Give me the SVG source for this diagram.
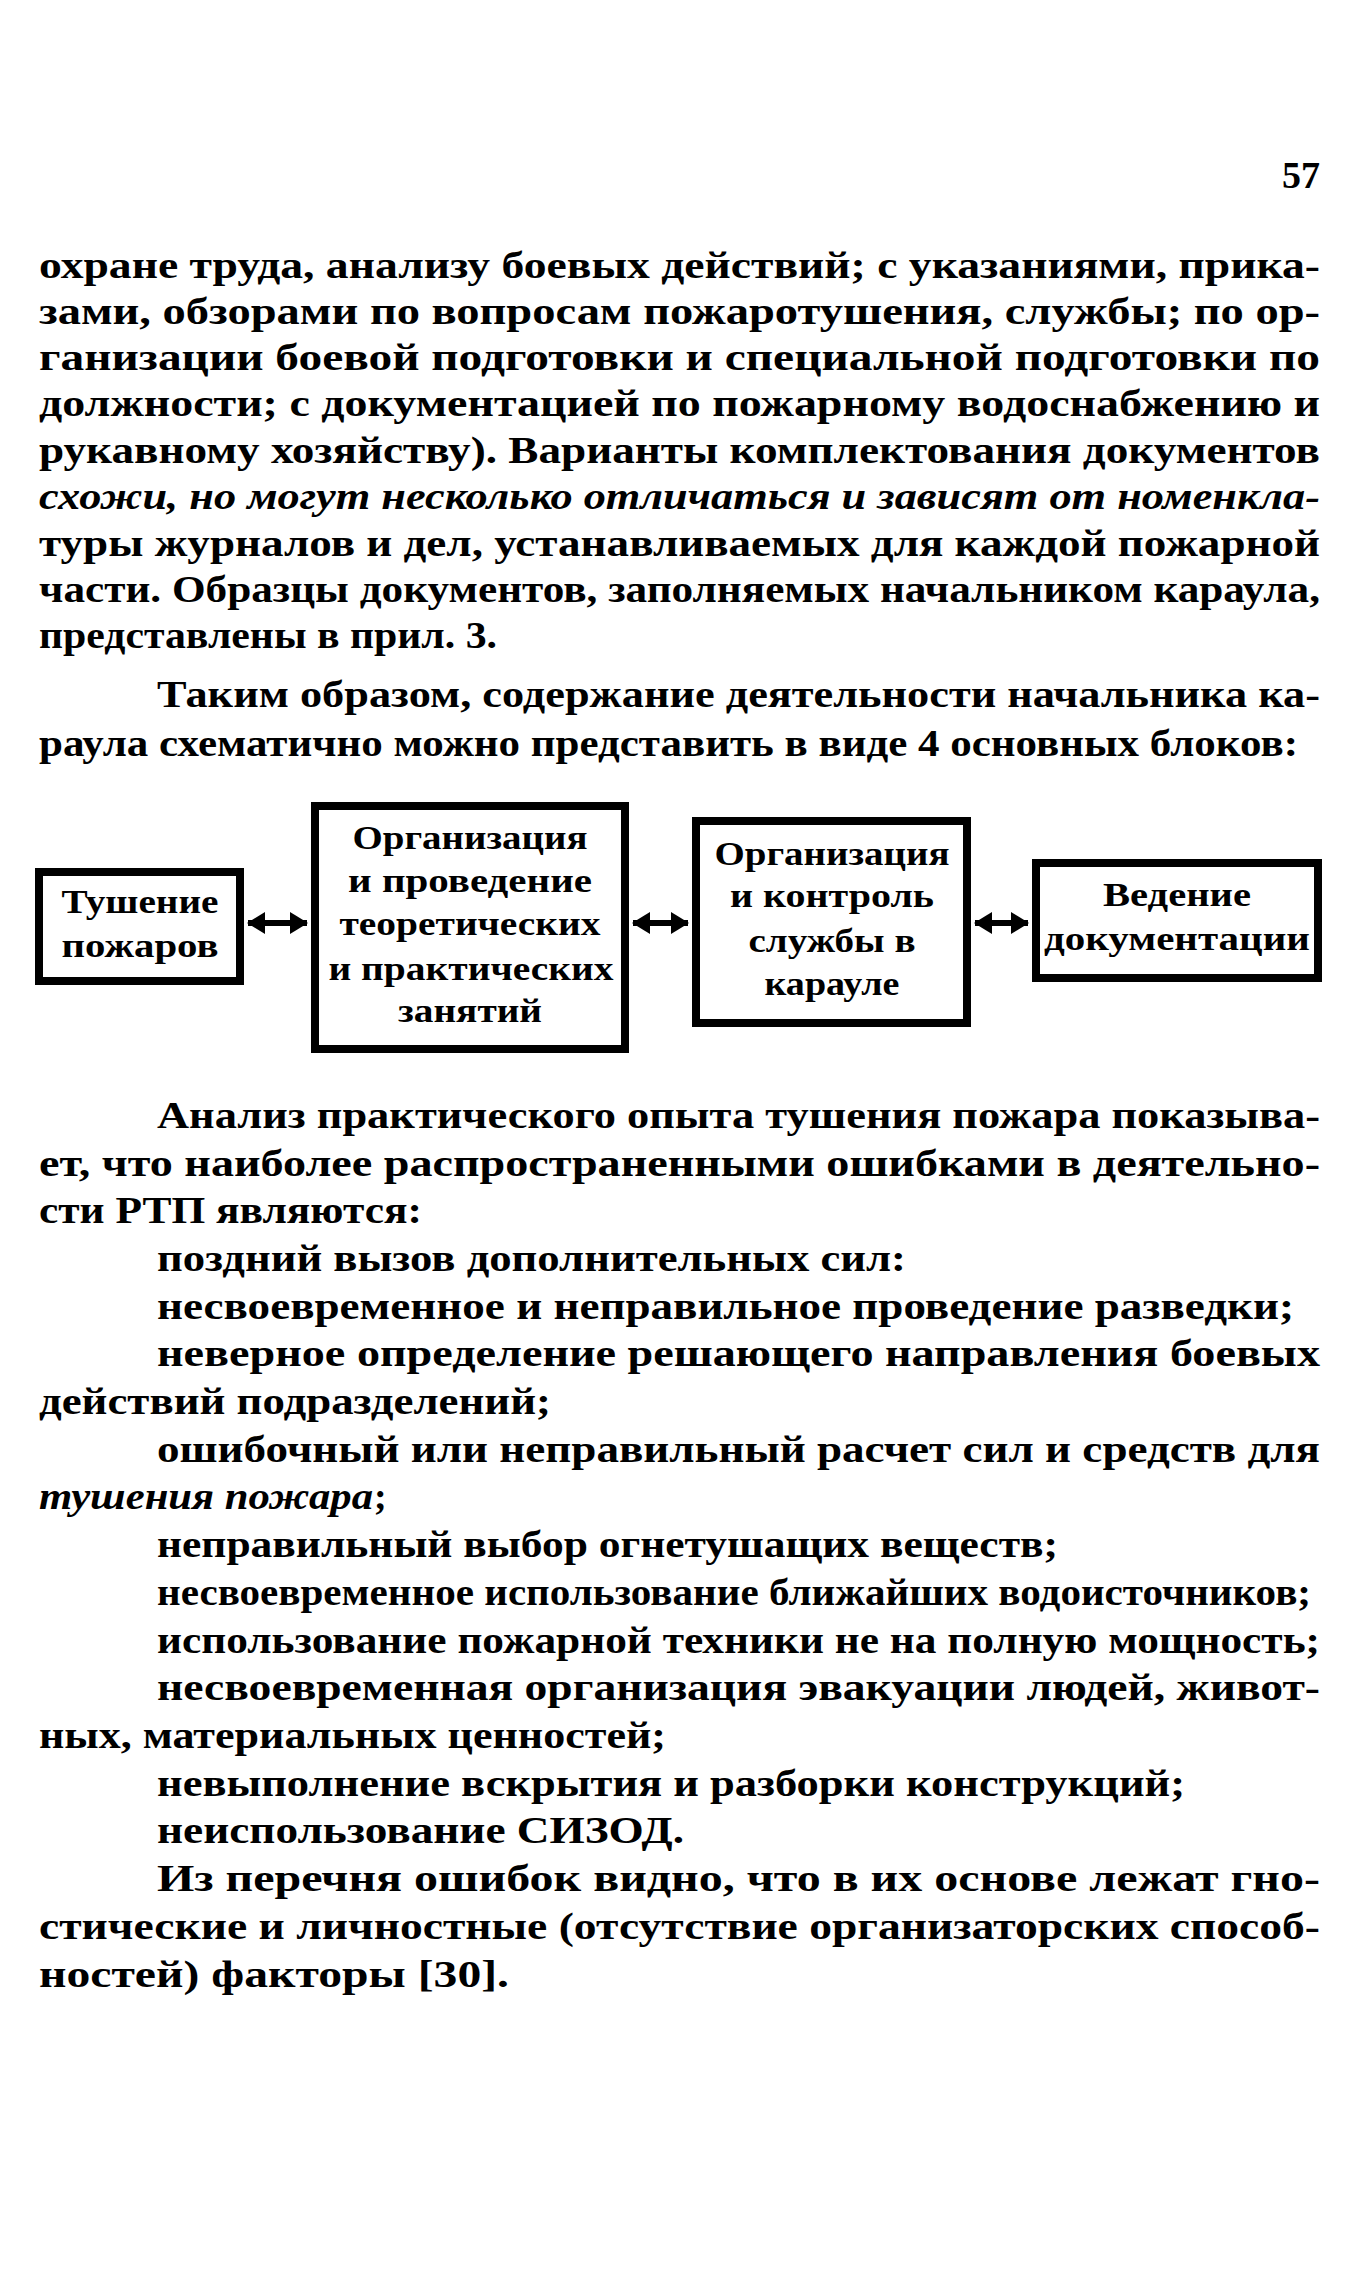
<svg xmlns="http://www.w3.org/2000/svg" width="1348" height="2283" viewBox="0 0 1348 2283">
<style>
.t{font-family:"Liberation Serif","Times New Roman",serif;font-weight:bold;font-size:38px;fill:#000}
.i{font-style:italic}
.b{font-family:"Liberation Serif","Times New Roman",serif;font-weight:bold;font-size:34px;fill:#000;text-anchor:middle}
.box{fill:#fff;stroke:#000;stroke-width:8}
.c{stroke:#000;stroke-width:6;fill:none}
</style>
<defs>
<marker id="ah" markerUnits="userSpaceOnUse" markerWidth="18" markerHeight="22" refX="17" refY="11" orient="auto-start-reverse">
<path d="M0,0 L18,11 L0,22 Z" fill="#000"/>
</marker>
</defs>
<rect width="1348" height="2283" fill="#fff"/>
<g id="text">
<text class="t" x="1320" y="188" text-anchor="end" font-size="40">57</text>
<text class="t" x="39" y="278" textLength="1281" lengthAdjust="spacingAndGlyphs">охране труда, анализу боевых действий; с указаниями, прика-</text>
<text class="t" x="39" y="324" textLength="1281" lengthAdjust="spacingAndGlyphs">зами, обзорами по вопросам пожаротушения, службы; по ор-</text>
<text class="t" x="39" y="370" textLength="1281" lengthAdjust="spacingAndGlyphs">ганизации боевой подготовки и специальной подготовки по</text>
<text class="t" x="39" y="416" textLength="1281" lengthAdjust="spacingAndGlyphs">должности; с документацией по пожарному водоснабжению и</text>
<text class="t" x="39" y="463" textLength="1281" lengthAdjust="spacingAndGlyphs">рукавному хозяйству). Варианты комплектования документов</text>
<text class="t i" x="39" y="509" textLength="1281" lengthAdjust="spacingAndGlyphs">схожи, но могут несколько отличаться и зависят от номенкла-</text>
<text class="t" x="39" y="556" textLength="1281" lengthAdjust="spacingAndGlyphs">туры журналов и дел, устанавливаемых для каждой пожарной</text>
<text class="t" x="39" y="602" textLength="1281" lengthAdjust="spacingAndGlyphs">части. Образцы документов, заполняемых начальником караула,</text>
<text class="t" x="39" y="648" textLength="458" lengthAdjust="spacingAndGlyphs">представлены в прил. 3.</text>
<text class="t" x="157" y="707" textLength="1163" lengthAdjust="spacingAndGlyphs">Таким образом, содержание деятельности начальника ка-</text>
<text class="t" x="39" y="756" textLength="1259" lengthAdjust="spacingAndGlyphs">раула схематично можно представить в виде 4 основных блоков:</text>

<text class="t" x="157" y="1128" textLength="1163" lengthAdjust="spacingAndGlyphs">Анализ практического опыта тушения пожара показыва-</text>
<text class="t" x="39" y="1176" textLength="1281" lengthAdjust="spacingAndGlyphs">ет, что наиболее распространенными ошибками в деятельно-</text>
<text class="t" x="39" y="1223" textLength="383" lengthAdjust="spacingAndGlyphs">сти РТП являются:</text>
<text class="t" x="157" y="1271" textLength="749" lengthAdjust="spacingAndGlyphs">поздний вызов дополнительных сил:</text>
<text class="t" x="157" y="1319" textLength="1137" lengthAdjust="spacingAndGlyphs">несвоевременное и неправильное проведение разведки;</text>
<text class="t" x="157" y="1366" textLength="1163" lengthAdjust="spacingAndGlyphs">неверное определение решающего направления боевых</text>
<text class="t" x="39" y="1414" textLength="512" lengthAdjust="spacingAndGlyphs">действий подразделений;</text>
<text class="t" x="157" y="1462" textLength="1163" lengthAdjust="spacingAndGlyphs">ошибочный или неправильный расчет сил и средств для</text>
<text class="t i" x="39" y="1509" textLength="334" lengthAdjust="spacingAndGlyphs">тушения пожара</text>
<text class="t" x="374" y="1509">;</text>
<text class="t" x="157" y="1557" textLength="901" lengthAdjust="spacingAndGlyphs">неправильный выбор огнетушащих веществ;</text>
<text class="t" x="157" y="1605" textLength="1154" lengthAdjust="spacingAndGlyphs">несвоевременное использование ближайших водоисточников;</text>
<text class="t" x="157" y="1653" textLength="1163" lengthAdjust="spacingAndGlyphs">использование пожарной техники не на полную мощность;</text>
<text class="t" x="157" y="1700" textLength="1163" lengthAdjust="spacingAndGlyphs">несвоевременная организация эвакуации людей, живот-</text>
<text class="t" x="39" y="1748" textLength="627" lengthAdjust="spacingAndGlyphs">ных, материальных ценностей;</text>
<text class="t" x="157" y="1796" textLength="1028" lengthAdjust="spacingAndGlyphs">невыполнение вскрытия и разборки конструкций;</text>
<text class="t" x="157" y="1843" textLength="527" lengthAdjust="spacingAndGlyphs">неиспользование СИЗОД.</text>
<text class="t" x="157" y="1891" textLength="1163" lengthAdjust="spacingAndGlyphs">Из перечня ошибок видно, что в их основе лежат гно-</text>
<text class="t" x="39" y="1939" textLength="1281" lengthAdjust="spacingAndGlyphs">стические и личностные (отсутствие организаторских способ-</text>
<text class="t" x="39" y="1987" textLength="470" lengthAdjust="spacingAndGlyphs">ностей) факторы [30].</text>
</g>
<g id="connectors">
<line class="c" x1="248" y1="923" x2="307" y2="923" marker-start="url(#ah)" marker-end="url(#ah)"/>
<line class="c" x1="633" y1="923" x2="688" y2="923" marker-start="url(#ah)" marker-end="url(#ah)"/>
<line class="c" x1="975" y1="923" x2="1028" y2="923" marker-start="url(#ah)" marker-end="url(#ah)"/>
</g>
<g id="n1">
<rect class="box" x="39" y="872" width="201" height="109"/>
<text class="b" x="140" y="913" textLength="157" lengthAdjust="spacingAndGlyphs">Тушение</text>
<text class="b" x="140" y="957" textLength="157" lengthAdjust="spacingAndGlyphs">пожаров</text>
</g>
<g id="n2">
<rect class="box" x="315" y="806" width="310" height="243"/>
<text class="b" x="470" y="849" textLength="235" lengthAdjust="spacingAndGlyphs">Организация</text>
<text class="b" x="470" y="892" textLength="244" lengthAdjust="spacingAndGlyphs">и проведение</text>
<text class="b" x="470" y="935" textLength="261" lengthAdjust="spacingAndGlyphs">теоретических</text>
<text class="b" x="471" y="980" textLength="285" lengthAdjust="spacingAndGlyphs">и практических</text>
<text class="b" x="470" y="1022" textLength="144" lengthAdjust="spacingAndGlyphs">занятий</text>
</g>
<g id="n3">
<rect class="box" x="696" y="821" width="271" height="202"/>
<text class="b" x="832" y="865" textLength="235" lengthAdjust="spacingAndGlyphs">Организация</text>
<text class="b" x="832" y="907" textLength="204" lengthAdjust="spacingAndGlyphs">и контроль</text>
<text class="b" x="832" y="952" textLength="167" lengthAdjust="spacingAndGlyphs">службы в</text>
<text class="b" x="832" y="995" textLength="135" lengthAdjust="spacingAndGlyphs">карауле</text>
</g>
<g id="n4">
<rect class="box" x="1036" y="863" width="282" height="115"/>
<text class="b" x="1177" y="906" textLength="148" lengthAdjust="spacingAndGlyphs">Ведение</text>
<text class="b" x="1177" y="950" textLength="266" lengthAdjust="spacingAndGlyphs">документации</text>
</g>
</svg>
